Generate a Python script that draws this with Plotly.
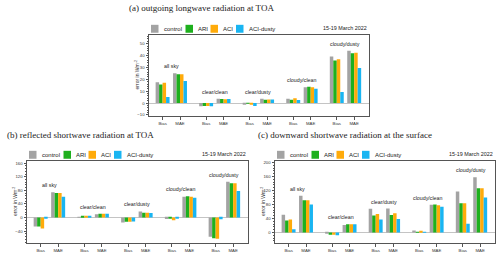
import plotly.graph_objects as go

W, H = 500, 256

categories = ["all sky", "clear/clean", "clear/dusty", "cloudy/clean", "cloudy/dusty"]
metrics = ["Bias", "MAE"]
series_names = ["control", "ARI", "ACI", "ACI-dusty"]
series_colors = ["#a3a3a3", "#1eb01e", "#ffab0a", "#19b5f2"]

# values ordered: (all sky Bias, all sky MAE, clear/clean Bias, clear/clean MAE, ...)
control_a = [17.4, 25.0, -2.8, 3.5, -0.8, 3.6, 3.5, 13.3, 39.2, 44.1]
ari_a = [15.7, 24.2, -2.5, 3.3, -0.5, 2.8, 2.7, 13.8, 35.7, 42.0]
aci_a = [17.0, 24.2, -2.5, 3.2, -0.9, 2.9, 4.0, 13.2, 36.8, 42.4]
dusty_a = [5.0, 18.5, -2.8, 3.3, -2.5, 3.0, 2.6, 12.0, 9.3, 29.5]

control_b = [-26, 74.5, 2, 10, -14.5, 18, -4, 61, -56, 105]
ari_b = [-26, 72.5, 4, 11, -12.6, 14.5, -2, 62.5, -61, 100.5]
aci_b = [-32, 72, 4, 11, -12.6, 14.5, -8, 61, -62, 100.5]
dusty_b = [-3, 61, 4, 11, -11.6, 13.6, -3, 58, -5, 78]

control_c = [51, 105, -1.5, 21.6, 68, 68.5, 6, 79.5, 117, 158]
ari_c = [34.8, 92, -6.5, 23.5, 49, 50.5, 0.8, 80, 84, 126.5]
aci_c = [37.6, 92, -6, 23.5, 53.3, 55.3, 5, 78.2, 84, 126.5]
dusty_c = [9.4, 80, -7.5, 23.5, 37.3, 39, 0.8, 74, 25, 100.3]

panel_titles = [
    "(a) outgoing longwave radiation at TOA",
    "(b) reflected shortwave radiation at TOA",
    "(c) downward shortwave radiation at the surface",
]
date_label = "15-19 March 2022"
y_title = "error in Wm<sup>-2</sup>"

panels = [
    dict(vals=[control_a, ari_a, aci_a, dusty_a], box=(149, 34, 369, 116),
         yrange=[-11, 57.5], dtick=10, minor=2, title_xy=(127, 7)),
    dict(vals=[control_b, ari_b, aci_b, dusty_b], box=(27, 161, 248, 244),
         yrange=[-75, 167], dtick=40, minor=8, title_xy=(5, 135)),
    dict(vals=[control_c, ari_c, aci_c, dusty_c], box=(275, 161, 495, 244),
         yrange=[-30, 205], dtick=40, minor=8, title_xy=(256, 135)),
]

# x positions: groups separated by 2.5 units
xpos = []
xtext = []
for g, c in enumerate(categories):
    for m, mt in enumerate(metrics):
        xpos.append(2.5 * g + m)
        xtext.append(mt)

SANS = "Liberation Sans"
SERIF = "Liberation Serif"
AX = "#555555"

fig = go.Figure()
layout = dict(width=W, height=H, margin=dict(l=0, r=0, t=0, b=0),
              paper_bgcolor="white", plot_bgcolor="white",
              barmode="group", bargap=0.2, bargroupgap=0.0,
              showlegend=False, shapes=[], annotations=[])

def px(x):
    return x / W

def py(y):
    return 1 - y / H

for i, p in enumerate(panels):
    k = "" if i == 0 else str(i + 1)
    xa, ya = "x" + k, "y" + k
    x0, y0, x1, y1 = p["box"]
    for s, name in enumerate(series_names):
        fig.add_trace(go.Bar(x=xpos, y=p["vals"][s], name=name,
                             marker=dict(color=series_colors[s], line=dict(width=0)),
                             xaxis=xa, yaxis=ya, offsetgroup=str(s)))
    layout["xaxis" + k] = dict(domain=[px(x0), px(x1)], anchor=ya,
                               range=[-0.78, 11.85], tickmode="array",
                               tickvals=xpos, ticktext=xtext,
                               ticks="outside", ticklen=2.5, tickwidth=0.8,
                               tickcolor=AX, showline=True, mirror=True,
                               linecolor=AX, linewidth=1, showgrid=False,
                               zeroline=False,
                               tickfont=dict(family=SANS, size=4.3, color="#333"))
    layout["yaxis" + k] = dict(domain=[py(y1), py(y0)], anchor=xa,
                               range=p["yrange"], dtick=p["dtick"],
                               ticks="outside", ticklen=2.5, tickwidth=0.8,
                               tickcolor=AX, showline=True, mirror=True,
                               linecolor=AX, linewidth=1, showgrid=False,
                               zeroline=True, zerolinecolor="#c4c4c4",
                               zerolinewidth=1,
                               minor=dict(dtick=p["minor"], ticks="outside",
                                          ticklen=1.3, tickcolor=AX, tickwidth=0.6),
                               tickfont=dict(family=SANS, size=4.3, color="#333"))
    # panel title
    tx, ty = p["title_xy"]
    layout["annotations"].append(dict(text=panel_titles[i], xref="paper", yref="paper",
                                      x=px(tx), y=py(ty), xanchor="left", yanchor="middle",
                                      showarrow=False,
                                      font=dict(family=SERIF, size=9, color="#222")))
    # axis title
    layout["annotations"].append(dict(text=y_title, xref="paper", yref="paper",
                                      x=px(x0 - 12), y=py((y0 + y1) / 2),
                                      xanchor="center", yanchor="middle", textangle=-90,
                                      showarrow=False,
                                      font=dict(family=SANS, size=5, color="#333")))
    # date label
    layout["annotations"].append(dict(text=date_label, xref="paper", yref="paper",
                                      x=px(x1), y=py(y0 - 1.5), xanchor="right",
                                      yanchor="bottom", showarrow=False,
                                      font=dict(family=SANS, size=5.4, color="#222")))
    # legend (manual)
    sq_off = [2, 36.5, 61.5, 87]
    for s, name in enumerate(series_names):
        sx = x0 + sq_off[s]
        layout["shapes"].append(dict(type="rect", xref="paper", yref="paper",
                                     x0=px(sx), x1=px(sx + 7.5),
                                     y0=py(y0 - 2), y1=py(y0 - 10),
                                     fillcolor=series_colors[s], line=dict(width=0)))
        layout["annotations"].append(dict(text=name, xref="paper", yref="paper",
                                          x=px(sx + 10.5), y=py(y0 - 6),
                                          xanchor="left", yanchor="middle",
                                          showarrow=False,
                                          font=dict(family=SANS, size=6, color="#222")))
    # group labels
    for g, c in enumerate(categories):
        top = max(max(v[2 * g], v[2 * g + 1]) for v in p["vals"])
        layout["annotations"].append(dict(text=c, xref=xa, yref=ya,
                                          x=2.5 * g + 0.5, y=max(top, 0),
                                          yshift=7, xanchor="center", yanchor="middle",
                                          showarrow=False,
                                          font=dict(family=SANS, size=5.3, color="#222")))

fig.update_layout(**layout)
fig.write_html("out.html", config={"displayModeBar": False},
               post_script="document.body.style.margin='0';document.body.style.padding='0';")
